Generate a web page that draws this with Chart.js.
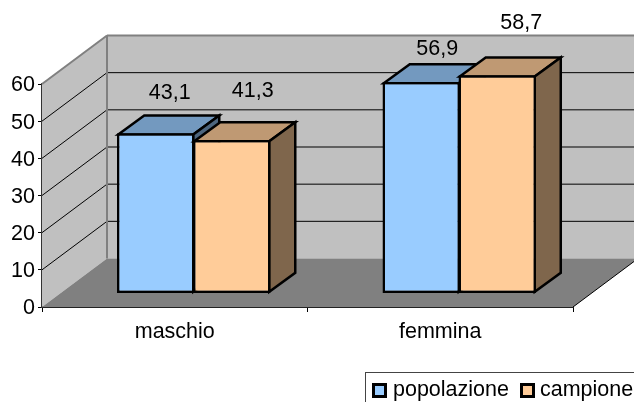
<!DOCTYPE html>
<html>
<head>
<meta charset="utf-8">
<script src="https://cdn.jsdelivr.net/npm/chart.js@4/dist/chart.umd.js"></script>
<style>
  html, body { margin: 0; padding: 0; background: #fff; overflow: hidden; }
  canvas { display: block; }
</style>
</head>
<body>
<canvas id="chart" width="634" height="402"></canvas>
<script>
const categories = ['maschio', 'femmina'];
const popolazione = [43.1, 56.9];
const campione = [41.3, 58.7];
const yTicks = [0, 10, 20, 30, 40, 50, 60];

const FONT = '21.5px "Liberation Sans", Arial, sans-serif';

// profondita' finta del grafico 3D
const wall = { dx: 65, dy: 48.5 };
const barShift = { dx: 19, dy: 13.5 };
const barDepth = { dx: 26, dy: 19 };

// le etichette sono spostate a mano nell'originale (serie, categoria)
const labelShift = [
  [[14, -40], [16, -33]],
  [[21, -49], [24, -52]]
];

const faceColors = [
  { top: '#7399bf', side: '#4d667f' },
  { top: '#bf9973', side: '#7f664c' }
];

function poly(ctx, pts, fill, stroke, width) {
  ctx.beginPath();
  pts.forEach((p, i) => (i ? ctx.lineTo(p[0], p[1]) : ctx.moveTo(p[0], p[1])));
  ctx.closePath();
  if (fill) {
    ctx.fillStyle = fill;
    ctx.fill();
  }
  if (stroke) {
    ctx.strokeStyle = stroke;
    ctx.lineWidth = width;
    ctx.lineJoin = 'miter';
    ctx.stroke();
  }
}

function line(ctx, x1, y1, x2, y2, color, width) {
  ctx.beginPath();
  ctx.moveTo(x1, y1);
  ctx.lineTo(x2, y2);
  ctx.strokeStyle = color;
  ctx.lineWidth = width;
  ctx.stroke();
}

function drawWalls(chart) {
  const { ctx, chartArea: a, scales: { y } } = chart;
  const bx = a.left + wall.dx;
  const by = a.bottom - wall.dy;
  const tx = a.top - wall.dy;
  poly(ctx, [[bx, tx], [a.right + wall.dx, tx], [a.right + wall.dx, by], [bx, by]], '#c0c0c0');
  poly(ctx, [[a.left, a.top], [bx, tx], [bx, by], [a.left, a.bottom]], '#c0c0c0');
  poly(ctx, [[a.left, a.bottom], [a.right, a.bottom], [a.right + wall.dx, by], [bx, by]], '#808080');

  yTicks.slice(1, -1).forEach(v => {
    const py = y.getPixelForValue(v);
    line(ctx, a.left, py, bx, py - wall.dy, '#000', 1);
    line(ctx, bx, py - wall.dy, a.right + wall.dx, py - wall.dy, '#000', 1);
  });

  line(ctx, a.left, a.top, bx, tx, '#808080', 2);
  line(ctx, bx, tx, a.right + wall.dx, tx, '#808080', 2);
  line(ctx, bx, tx, bx, by, '#808080', 2);
  line(ctx, a.right, a.bottom, a.right + wall.dx, by, '#000', 1);
}

function drawFaces(ctx, meta, colors) {
  meta.data.forEach(bar => {
    const l = bar.x - bar.width / 2 + 1.25;
    const r = bar.x + bar.width / 2 - 1.25;
    const t = bar.y + 1.25;
    const b = bar.base - 1.25;
    const d = barDepth;
    poly(ctx, [[l, t], [l + d.dx, t - d.dy], [r + d.dx, t - d.dy], [r, t]], colors.top, '#000', 2.5);
    poly(ctx, [[r, t], [r + d.dx, t - d.dy], [r + d.dx, b - d.dy], [r, b]], colors.side, '#000', 2.5);
  });
}

const pseudo3d = {
  id: 'pseudo3d',
  beforeDraw(chart) {
    // i numeri dell'asse y stanno un po' piu' in basso
    chart.scales.y.getLabelItems().forEach(item => { item.options.translation[1] += 1.5; });
  },
  beforeDatasetsDraw(chart) {
    const { ctx } = chart;
    ctx.save();
    drawWalls(chart);
    // prima popolazione e poi campione, chart.js li farebbe al contrario
    ctx.translate(barShift.dx, -barShift.dy);
    chart.data.datasets.forEach((ds, i) => {
      const meta = chart.getDatasetMeta(i);
      drawFaces(ctx, meta, faceColors[i]);
      meta.controller.draw();
    });
    ctx.restore();
    return false;
  },
  afterDraw(chart) {
    const { ctx } = chart;
    ctx.save();
    ctx.font = FONT;
    ctx.fillStyle = '#000';
    ctx.textAlign = 'center';
    ctx.textBaseline = 'middle';
    chart.data.datasets.forEach((ds, i) => {
      chart.getDatasetMeta(i).data.forEach((bar, j) => {
        const shift = labelShift[i][j];
        ctx.fillText(
          String(ds.data[j]).replace('.', ','),
          bar.x + barShift.dx + shift[0],
          bar.y - barShift.dy + shift[1]
        );
      });
    });

    // legenda tagliata dal bordo, come nell'originale
    ctx.textAlign = 'left';
    ctx.fillStyle = '#fff';
    ctx.fillRect(365.5, 372.5, 280, 40);
    ctx.strokeStyle = '#444';
    ctx.lineWidth = 1;
    ctx.strokeRect(365.5, 372.5, 280, 40);
    const boxes = [373.5, 521.5];
    const texts = [393, 540];
    chart.data.datasets.forEach((ds, i) => {
      ctx.fillStyle = ds.backgroundColor;
      ctx.strokeStyle = '#000';
      ctx.lineWidth = 3;
      ctx.fillRect(boxes[i], 384.5, 12, 12);
      ctx.strokeRect(boxes[i], 384.5, 12, 12);
      ctx.fillStyle = '#000';
      ctx.fillText(ds.label, texts[i], 390.5);
    });
    ctx.restore();
  }
};

new Chart(document.getElementById('chart'), {
  type: 'bar',
  data: {
    labels: categories,
    datasets: [
      {
        label: 'popolazione',
        data: popolazione,
        backgroundColor: '#99ccff',
        borderColor: '#000',
        borderWidth: 2.5,
        borderSkipped: false
      },
      {
        label: 'campione',
        data: campione,
        backgroundColor: '#ffcc99',
        borderColor: '#000',
        borderWidth: 2.5,
        borderSkipped: false
      }
    ]
  },
  options: {
    responsive: false,
    animation: false,
    devicePixelRatio: 1,
    layout: { padding: { top: 84, right: 61, bottom: 0, left: 0 } },
    categoryPercentage: 0.5725,
    barPercentage: 1.02,
    plugins: {
      legend: { display: false },
      tooltip: { enabled: false }
    },
    scales: {
      x: {
        grid: { offset: true, drawOnChartArea: false, drawTicks: true, tickLength: 5, color: '#000' },
        border: { color: '#222', width: 2 },
        ticks: { color: '#000', font: { family: '"Liberation Sans"', size: 21.5 }, padding: 7, maxRotation: 0 },
        afterFit(scale) { scale.height = 95; }
      },
      y: {
        min: 0,
        max: 60,
        afterBuildTicks(scale) { scale.ticks = yTicks.map(v => ({ value: v })); },
        grid: { drawOnChartArea: false, drawTicks: true, tickLength: 4, color: '#000' },
        border: { color: '#333', width: 2 },
        ticks: { color: '#000', font: { family: '"Liberation Sans"', size: 21.5 }, padding: 3 },
        afterFit(scale) { scale.width = 42; }
      }
    }
  },
  plugins: [pseudo3d]
});
</script>
</body>
</html>
